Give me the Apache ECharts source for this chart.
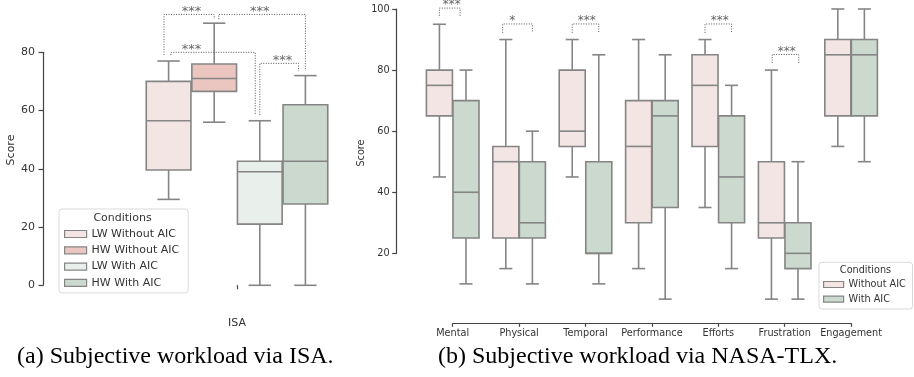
<!DOCTYPE html>
<html><head><meta charset="utf-8">
<script src="https://cdn.jsdelivr.net/npm/echarts@6/dist/echarts.min.js"></script>
<style>html,body{margin:0;padding:0;background:#fff}#c{width:914px;height:377px}</style>
</head><body><div id="c"></div>
<script>
// ---------- data ----------
const isaCategories = ['ISA'];
const isaConditions = ['LW Without AIC', 'HW Without AIC', 'LW With AIC', 'HW With AIC'];
// [low whisker, Q1, median, Q3, high whisker]
const isaLWWithout = [29.5, 39.6, 56.5, 70, 77];
const isaHWWithout = [56, 66.6, 71, 76, 90];
const isaLWWith = [0, 21, 39, 42.6, 56.5];
const isaHWWith = [0, 27.9, 42.6, 62, 72];
const isaFliers = [[0, 0]];
// [hueFrom, hueTo, leftLeg, top, rightLeg, labelHue]
const isaBrackets = [
  [-0.1, 1.0, 79.1, 93.0, 91.4, 0.5],
  [1.1, 3.0, 91.4, 93.0, 73.6, 2.0],
  [0.05, 1.9, 79.1, 80.0, 58.5, 0.5],
  [2.0, 2.85, 58.5, 76.2, 73.6, 2.5]
];
const isaBracketLabels = ['***', '***', '***', '***'];
const isaTicks = [0, 20, 40, 60, 80];

const tlxCategories = ['Mental', 'Physical', 'Temporal', 'Performance', 'Efforts', 'Frustration', 'Engagement'];
const tlxConditions = ['Without AIC', 'With AIC'];
const tlxWithout = [
  [45, 65, 75, 80, 95],
  [15, 25, 50, 55, 90],
  [45, 55, 60, 80, 90],
  [15, 30, 55, 70, 90],
  [35, 55, 75, 85, 90],
  [5, 25, 30, 50, 80],
  [55, 65, 85, 90, 100]
];
const tlxWith = [
  [10, 25, 40, 70, 80],
  [10, 25, 30, 50, 60],
  [10, 20, 20, 50, 85],
  [5, 35, 65, 70, 85],
  [15, 30, 45, 65, 75],
  [5, 15, 20, 30, 50],
  [50, 65, 85, 90, 100]
];
const tlxFliers = [[0, 0]];
// [category, hueFrom, hueTo, leftLeg, top, rightLeg, labelHue]
const tlxBrackets = [
  [0, 0, 0.78, 97.8, 100.3, 97.8, 0.46],
  [1, -0.12, 1.0, 92.2, 95.1, 92.2, 0.24],
  [2, 0, 1.0, 92.2, 95.1, 92.2, 0.55],
  [4, 0, 1.0, 92.2, 95.1, 92.2, 0.55],
  [5, 0.03, 1.03, 82.3, 85.1, 82.3, 0.58]
];
const tlxBracketLabels = ['***', '*', '***', '***', '***'];
const tlxTicks = [20, 40, 60, 80, 100];

// ---------- styles ----------
const EDGE = '#858585';
const AX = '#444';
const TXT = '#333';
const FONT = 'DejaVu Sans';
const isaColors = ['#f2e5e3', '#ebc6c0', '#e9efea', '#cbd9ce'];
const tlxColors = ['#f2e5e3', '#cbd9ce'];

function boxSeries(name, rows, nHue, hue, color, xi, yi) {
  return {
    type: 'custom', name, xAxisIndex: xi, yAxisIndex: yi,
    data: rows.map((d, i) => [i].concat(d)),
    encode: { x: 0, y: [1, 2, 3, 4, 5] },
    itemStyle: { color },
    renderItem(params, api) {
      const cat = api.value(0);
      const band = api.size([1, 0])[0];
      const slot = band * 0.8 / nHue;
      const bw = slot * 0.98;
      const cx = api.coord([cat, 0])[0] + (hue - (nHue - 1) / 2) * slot;
      const y = v => api.coord([cat, v])[1];
      const lo = y(api.value(1)), q1 = y(api.value(2)), md = y(api.value(3)),
            q3 = y(api.value(4)), hi = y(api.value(5));
      const h = bw / 2, cap = bw / 4;
      const ls = { stroke: EDGE, lineWidth: 1.6 };
      return { type: 'group', children: [
        { type: 'line', shape: { x1: cx, y1: q3, x2: cx, y2: hi }, style: ls },
        { type: 'line', shape: { x1: cx, y1: q1, x2: cx, y2: lo }, style: ls },
        { type: 'line', shape: { x1: cx - cap, y1: hi, x2: cx + cap, y2: hi }, style: ls },
        { type: 'line', shape: { x1: cx - cap, y1: lo, x2: cx + cap, y2: lo }, style: ls },
        { type: 'rect', shape: { x: cx - h, y: q3, width: bw, height: q1 - q3 },
          style: { fill: color, stroke: EDGE, lineWidth: 1.6 } },
        { type: 'line', shape: { x1: cx - h, y1: md, x2: cx + h, y2: md }, style: ls }
      ]};
    }
  };
}

function bracketSeries(rows, labels, nHue, xi, yi, fs) {
  return {
    type: 'custom', xAxisIndex: xi, yAxisIndex: yi, silent: true,
    data: rows, encode: { x: 0, y: [3, 4, 5] },
    renderItem(params, api) {
      const cat = api.value(0);
      const band = api.size([1, 0])[0];
      const slot = band * 0.8 / nHue;
      const c0 = api.coord([cat, 0])[0];
      const hx = hh => c0 + (hh - (nHue - 1) / 2) * slot;
      const x1 = hx(api.value(1)), x2 = hx(api.value(2));
      const y = v => api.coord([cat, v])[1];
      const yl = y(api.value(3)), yt = y(api.value(4)), yr = y(api.value(5));
      const xl = hx(api.value(6));
      return { type: 'group', children: [
        { type: 'polyline', shape: { points: [[x1, yl], [x1, yt], [x2, yt], [x2, yr]] },
          style: { stroke: '#555', lineWidth: 1, lineDash: [1, 1.5], fill: null } },
        { type: 'text', x: xl, y: yt - 3,
          style: { text: labels[params.dataIndex], align: 'center', verticalAlign: 'middle',
                   fontSize: fs, fontFamily: FONT, fill: '#666' } }
      ]};
    }
  };
}

const chart = echarts.init(document.getElementById('c'), null, { renderer: 'canvas' });
const hiddenAxis = gi => ({ gridIndex: gi, type: 'value', show: false });

const option = {
  animation: false,
  backgroundColor: '#fff',
  title: [
    { text: 'Conditions', left: 122.5, top: 212.5, textAlign: 'center', padding: 0,
      textStyle: { fontSize: 11, fontWeight: 'normal', color: TXT, fontFamily: FONT } },
    { text: 'Conditions', left: 865.5, top: 265, textAlign: 'center', padding: 0,
      textStyle: { fontSize: 9.7, fontWeight: 'normal', color: TXT, fontFamily: FONT } },
    { text: '(a) Subjective workload via ISA.', left: 17, top: 345, padding: 0,
      textStyle: { fontSize: 24, fontWeight: 'normal', color: '#000', fontFamily: 'Liberation Serif' } },
    { text: '(b) Subjective workload via NASA-TLX.', left: 438, top: 345, padding: 0,
      textStyle: { fontSize: 24, fontWeight: 'normal', color: '#000', fontFamily: 'Liberation Serif' } }
  ],
  legend: [
    { orient: 'vertical', left: 59, top: 209, icon: 'rect', itemWidth: 22, itemHeight: 7, itemGap: 5.3,
      padding: [19.5, 9, 4.5, 5], borderColor: '#d9d9d9', borderWidth: 1, borderRadius: 3,
      backgroundColor: '#fff', selectedMode: false, align: 'left',
      textStyle: { fontSize: 11, color: TXT, fontFamily: FONT },
      data: isaConditions.map((n, i) => ({ name: n, itemStyle: { color: isaColors[i], borderColor: EDGE, borderWidth: 1.2 } })) },
    { orient: 'vertical', left: 819, top: 262.3, icon: 'rect', itemWidth: 20, itemHeight: 6, itemGap: 4.7,
      padding: [17.2, 6.7, 4.8, 4], borderColor: '#d9d9d9', borderWidth: 1, borderRadius: 3,
      backgroundColor: '#fff', selectedMode: false, align: 'left',
      textStyle: { fontSize: 9.7, color: TXT, fontFamily: FONT },
      data: tlxConditions.map((n, i) => ({ name: n, itemStyle: { color: tlxColors[i], borderColor: EDGE, borderWidth: 1.2 } })) }
  ],
  grid: [
    { left: 123, top: 8, width: 228, height: 284 },
    { left: 43, top: 52.3, width: 1, height: 233 },
    { left: 419.5, top: 9, width: 464.8, height: 288 },
    { left: 396.7, top: 9, width: 1, height: 244.3 },
    { left: 452.7, top: 300, width: 398.4, height: 23.3 }
  ],
  xAxis: [
    { gridIndex: 0, type: 'category', data: isaCategories, offset: 17.5,
      axisLine: { show: false },
      axisTick: { show: true, alignWithLabel: true, length: 4, lineStyle: { color: AX, width: 1.2 } },
      axisLabel: { fontSize: 11, color: TXT, margin: 8.5, fontFamily: FONT } },
    hiddenAxis(1),
    { gridIndex: 2, type: 'category', data: tlxCategories, show: false },
    hiddenAxis(3),
    { gridIndex: 4, type: 'category', data: tlxCategories, boundaryGap: false,
      axisLine: { show: true, lineStyle: { color: AX, width: 1.2 } },
      axisTick: { show: true, length: 3.5, interval: 0, lineStyle: { color: AX, width: 1.2 } },
      axisLabel: { fontSize: 9.7, color: TXT, margin: 5, interval: 0, fontFamily: FONT } }
  ],
  yAxis: [
    { gridIndex: 0, type: 'value', min: -2.3, max: 95.21, offset: 80,
      name: 'Score', nameLocation: 'middle', nameGap: 26,
      nameTextStyle: { fontSize: 11, color: TXT, fontFamily: FONT },
      axisLine: { show: false }, axisTick: { show: false }, axisLabel: { show: false }, splitLine: { show: false } },
    { gridIndex: 1, type: 'value', min: isaTicks[0], max: isaTicks[isaTicks.length - 1], interval: 20,
      axisLine: { show: true, lineStyle: { color: AX, width: 1.2 } },
      axisTick: { show: true, length: 4.5, lineStyle: { color: AX, width: 1.2 } },
      axisLabel: { fontSize: 11, color: TXT, margin: 8, fontFamily: FONT },
      splitLine: { show: false } },
    { gridIndex: 2, type: 'value', min: 5.7, max: 100, offset: 22.8,
      name: 'Score', nameLocation: 'middle', nameGap: 30,
      nameTextStyle: { fontSize: 9.7, color: TXT, fontFamily: FONT },
      axisLine: { show: false }, axisTick: { show: false }, axisLabel: { show: false }, splitLine: { show: false } },
    { gridIndex: 3, type: 'value', min: tlxTicks[0], max: tlxTicks[tlxTicks.length - 1], interval: 20,
      axisLine: { show: true, lineStyle: { color: AX, width: 1.2 } },
      axisTick: { show: true, length: 4.5, lineStyle: { color: AX, width: 1.2 } },
      axisLabel: { fontSize: 9.7, color: TXT, margin: 7, fontFamily: FONT },
      splitLine: { show: false } },
    hiddenAxis(4)
  ],
  series: [
    boxSeries(isaConditions[0], [isaLWWithout], 4, 0, isaColors[0], 0, 0),
    boxSeries(isaConditions[1], [isaHWWithout], 4, 1, isaColors[1], 0, 0),
    boxSeries(isaConditions[2], [isaLWWith], 4, 2, isaColors[2], 0, 0),
    boxSeries(isaConditions[3], [isaHWWith], 4, 3, isaColors[3], 0, 0),
    bracketSeries(isaBrackets.map(b => [0].concat(b)), isaBracketLabels, 4, 0, 0, 13),
    { type: 'scatter', xAxisIndex: 0, yAxisIndex: 0, data: isaFliers, symbolSize: 1.5,
      itemStyle: { color: '#999' }, silent: true },
    boxSeries(tlxConditions[0], tlxWithout, 2, 0, tlxColors[0], 2, 2),
    boxSeries(tlxConditions[1], tlxWith, 2, 1, tlxColors[1], 2, 2),
    bracketSeries(tlxBrackets, tlxBracketLabels, 2, 2, 2, 12),
    { type: 'scatter', xAxisIndex: 2, yAxisIndex: 2, data: tlxFliers, symbolSize: 1.5,
      itemStyle: { color: '#999' }, silent: true }
  ]
};
chart.setOption(option);
</script></body></html>
